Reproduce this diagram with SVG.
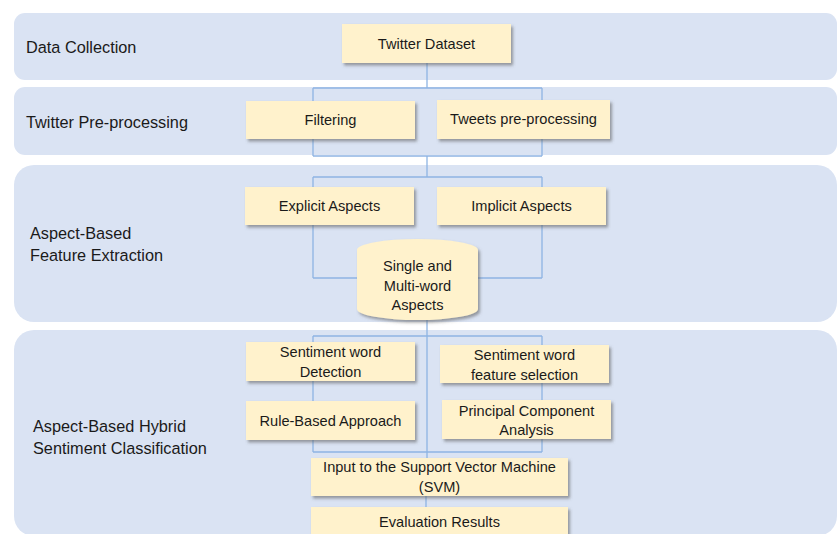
<svg xmlns="http://www.w3.org/2000/svg" width="838" height="534" viewBox="0 0 838 534">
<defs>
<filter id="sh" x="-10%" y="-20%" width="125%" height="150%">
<feDropShadow dx="2" dy="2.5" stdDeviation="1.5" flood-color="#555" flood-opacity="0.55"/>
</filter>
</defs>
<style>
.band{fill:#DAE3F3;}
.lbl{font-family:"Liberation Sans",Arial,sans-serif;font-size:16.3px;fill:#1a1a1a;}
.box{fill:#FFF2CC;filter:url(#sh);}
.t{font-family:"Liberation Sans",Arial,sans-serif;font-size:14.6px;fill:#1a1a1a;text-anchor:middle;}
.ln{stroke:#8EB4E3;stroke-width:1.3;fill:none;}
</style>
<rect width="838" height="534" fill="#ffffff"/>
<g id="bands">
<rect class="band" x="14" y="13" width="823" height="67" rx="11"/>
<rect class="band" x="14" y="87" width="823" height="68" rx="11"/>
<rect class="band" x="14" y="165" width="823" height="157" rx="20"/>
<rect class="band" x="14" y="330" width="823" height="206" rx="20"/>
</g>
<g id="band-labels">
<text class="lbl" x="26" y="53">Data Collection</text>
<text class="lbl" x="26" y="128">Twitter Pre-processing</text>
<text class="lbl" x="30" y="239">Aspect-Based</text>
<text class="lbl" x="30" y="261">Feature Extraction</text>
<text class="lbl" x="33" y="432">Aspect-Based Hybrid</text>
<text class="lbl" x="33" y="454">Sentiment Classification</text>
</g>
<g id="connectors">
<path class="ln" d="M427,63 V88 M313,88 H542 M313,88 V156 M542,88 V156 M313,156 H542"/>
<path class="ln" d="M427,156 V177 M313,177 H542 M313,177 V278 M542,177 V278 M313,278 H542"/>
<path class="ln" d="M427,300 V458 M313,336 H542 M313,336 V452 M542,336 V452 M313,452 H542"/>
<path class="ln" d="M426,496 V507"/>
</g>
<g id="twitter-dataset">
<rect class="box" x="342" y="24" width="169" height="39"/>
<text class="t" x="426.5" y="49">Twitter Dataset</text>
</g>
<g id="filtering">
<rect class="box" x="246" y="101" width="169" height="38"/>
<text class="t" x="330.5" y="125">Filtering</text>
</g>
<g id="tweets-preprocessing">
<rect class="box" x="437" y="100" width="173" height="39"/>
<text class="t" x="523.5" y="124">Tweets pre-processing</text>
</g>
<g id="explicit-aspects">
<rect class="box" x="245" y="187" width="169" height="38"/>
<text class="t" x="329.5" y="211">Explicit Aspects</text>
</g>
<g id="implicit-aspects">
<rect class="box" x="437" y="187" width="169" height="38"/>
<text class="t" x="521.5" y="211">Implicit Aspects</text>
</g>
<g id="single-multi-word-aspects">
<path class="box" d="M357,250 A60.5,11 0 0 1 478,250 V309 A60.5,11 0 0 1 357,309 Z"/>
<text class="t" x="417.5" y="271">Single and</text>
<text class="t" x="417.5" y="291">Multi-word</text>
<text class="t" x="417.5" y="310">Aspects</text>
</g>
<g id="sentiment-word-detection">
<rect class="box" x="246" y="342" width="169" height="39"/>
<text class="t" x="330.5" y="357">Sentiment word</text>
<text class="t" x="330.5" y="377">Detection</text>
</g>
<g id="sentiment-word-feature-selection">
<rect class="box" x="440" y="345" width="169" height="38"/>
<text class="t" x="524.5" y="360">Sentiment word</text>
<text class="t" x="524.5" y="380">feature selection</text>
</g>
<g id="rule-based-approach">
<rect class="box" x="246" y="401" width="169" height="39"/>
<text class="t" x="330.5" y="426">Rule-Based Approach</text>
</g>
<g id="pca">
<rect class="box" x="442" y="400" width="169" height="39"/>
<text class="t" x="526.5" y="416">Principal Component</text>
<text class="t" x="526.5" y="435">Analysis</text>
</g>
<g id="svm-input">
<rect class="box" x="311" y="458" width="257" height="38"/>
<text class="t" x="439.5" y="472">Input to the Support Vector Machine</text>
<text class="t" x="439.5" y="492">(SVM)</text>
</g>
<g id="evaluation-results">
<rect class="box" x="311" y="507" width="257" height="40"/>
<text class="t" x="439.5" y="527">Evaluation Results</text>
</g>
</svg>
